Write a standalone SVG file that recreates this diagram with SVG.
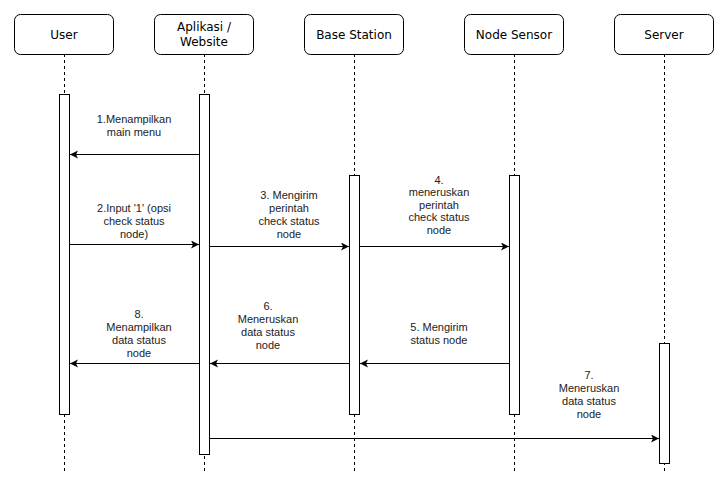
<svg xmlns="http://www.w3.org/2000/svg" width="722" height="481" viewBox="0 0 722 481">
<defs>
<marker id="ah" markerUnits="userSpaceOnUse" markerWidth="10" markerHeight="9" refX="8" refY="4" orient="auto">
<path d="M0,0 L8,4 L0,8 L2,4 z" fill="#000"/>
</marker>
</defs>
<style>
.hdr{fill:#fff;stroke:#000;stroke-width:1}
.ht{font-family:"DejaVu Sans",sans-serif;font-size:12px;fill:#000;text-anchor:middle;dominant-baseline:central}
.life{stroke:#000;stroke-width:1;stroke-dasharray:3 3;fill:none}
.bar{fill:#fff;stroke:#000;stroke-width:1}
.msg{stroke:#000;stroke-width:1;fill:none;marker-end:url(#ah)}
.lt{font-family:"Liberation Sans",Arial,sans-serif;font-size:11px;fill:#222;text-anchor:middle;dominant-baseline:central}
</style>
<rect width="722" height="481" fill="#fff"/>

<g id="lifelines">
<line class="life" x1="64.5" y1="54" x2="64.5" y2="471"/>
<line class="life" x1="204.5" y1="54" x2="204.5" y2="471"/>
<line class="life" x1="354.5" y1="54" x2="354.5" y2="471"/>
<line class="life" x1="514.5" y1="54" x2="514.5" y2="471"/>
<line class="life" x1="664.5" y1="54" x2="664.5" y2="471"/>
</g>

<g id="user">
<rect class="hdr" x="14.5" y="14.5" width="99" height="40" rx="6"/>
<text class="ht" x="64" y="34.5">User</text>
<rect class="bar" x="59.5" y="94.5" width="10" height="320"/>
</g>
<g id="aplikasi">
<rect class="hdr" x="154.5" y="14.5" width="99" height="40" rx="6"/>
<text class="ht" x="204" y="27">Aplikasi /</text>
<text class="ht" x="204" y="42">Website</text>
<rect class="bar" x="199.5" y="94.5" width="10" height="360"/>
</g>
<g id="basestation">
<rect class="hdr" x="304.5" y="14.5" width="99" height="40" rx="6"/>
<text class="ht" x="354" y="34.5">Base Station</text>
<rect class="bar" x="349.5" y="175.5" width="10" height="239"/>
</g>
<g id="nodesensor">
<rect class="hdr" x="464.5" y="14.5" width="99" height="40" rx="6"/>
<text class="ht" x="514" y="34.5">Node Sensor</text>
<rect class="bar" x="509.5" y="175.5" width="10" height="239"/>
</g>
<g id="server">
<rect class="hdr" x="614.5" y="14.5" width="99" height="40" rx="6"/>
<text class="ht" x="664" y="34.5">Server</text>
<rect class="bar" x="659.5" y="343.5" width="10" height="120"/>
</g>

<g id="connectors">
<line class="msg" x1="199" y1="154.5" x2="70" y2="154.5"/>
<line class="msg" x1="70" y1="244.5" x2="199" y2="244.5"/>
<line class="msg" x1="210" y1="246.5" x2="349" y2="246.5"/>
<line class="msg" x1="360" y1="246.5" x2="509" y2="246.5"/>
<line class="msg" x1="509" y1="363.5" x2="360" y2="363.5"/>
<line class="msg" x1="349" y1="363.5" x2="210" y2="363.5"/>
<line class="msg" x1="199" y1="363.5" x2="70" y2="363.5"/>
<line class="msg" x1="210" y1="438.5" x2="659" y2="438.5"/>
</g>

<g id="labels">
<text class="lt" x="134" y="119">1.Menampilkan</text>
<text class="lt" x="134" y="132">main menu</text>

<text class="lt" x="134" y="208">2.Input '1' (opsi</text>
<text class="lt" x="134" y="221">check status</text>
<text class="lt" x="134" y="234">node)</text>

<text class="lt" x="289" y="195">3. Mengirim</text>
<text class="lt" x="289" y="208">perintah</text>
<text class="lt" x="289" y="221">check status</text>
<text class="lt" x="289" y="234">node</text>

<text class="lt" x="439" y="180">4.</text>
<text class="lt" x="439" y="192">meneruskan</text>
<text class="lt" x="439" y="205">perintah</text>
<text class="lt" x="439" y="217">check status</text>
<text class="lt" x="439" y="230">node</text>

<text class="lt" x="439" y="327">5. Mengirim</text>
<text class="lt" x="439" y="340">status node</text>

<text class="lt" x="268" y="306">6.</text>
<text class="lt" x="268" y="319">Meneruskan</text>
<text class="lt" x="268" y="332">data status</text>
<text class="lt" x="268" y="345">node</text>

<text class="lt" x="589" y="375">7.</text>
<text class="lt" x="589" y="388">Meneruskan</text>
<text class="lt" x="589" y="401">data status</text>
<text class="lt" x="589" y="414">node</text>

<text class="lt" x="139" y="314">8.</text>
<text class="lt" x="139" y="327">Menampilkan</text>
<text class="lt" x="139" y="340">data status</text>
<text class="lt" x="139" y="353">node</text>
</g>
</svg>
